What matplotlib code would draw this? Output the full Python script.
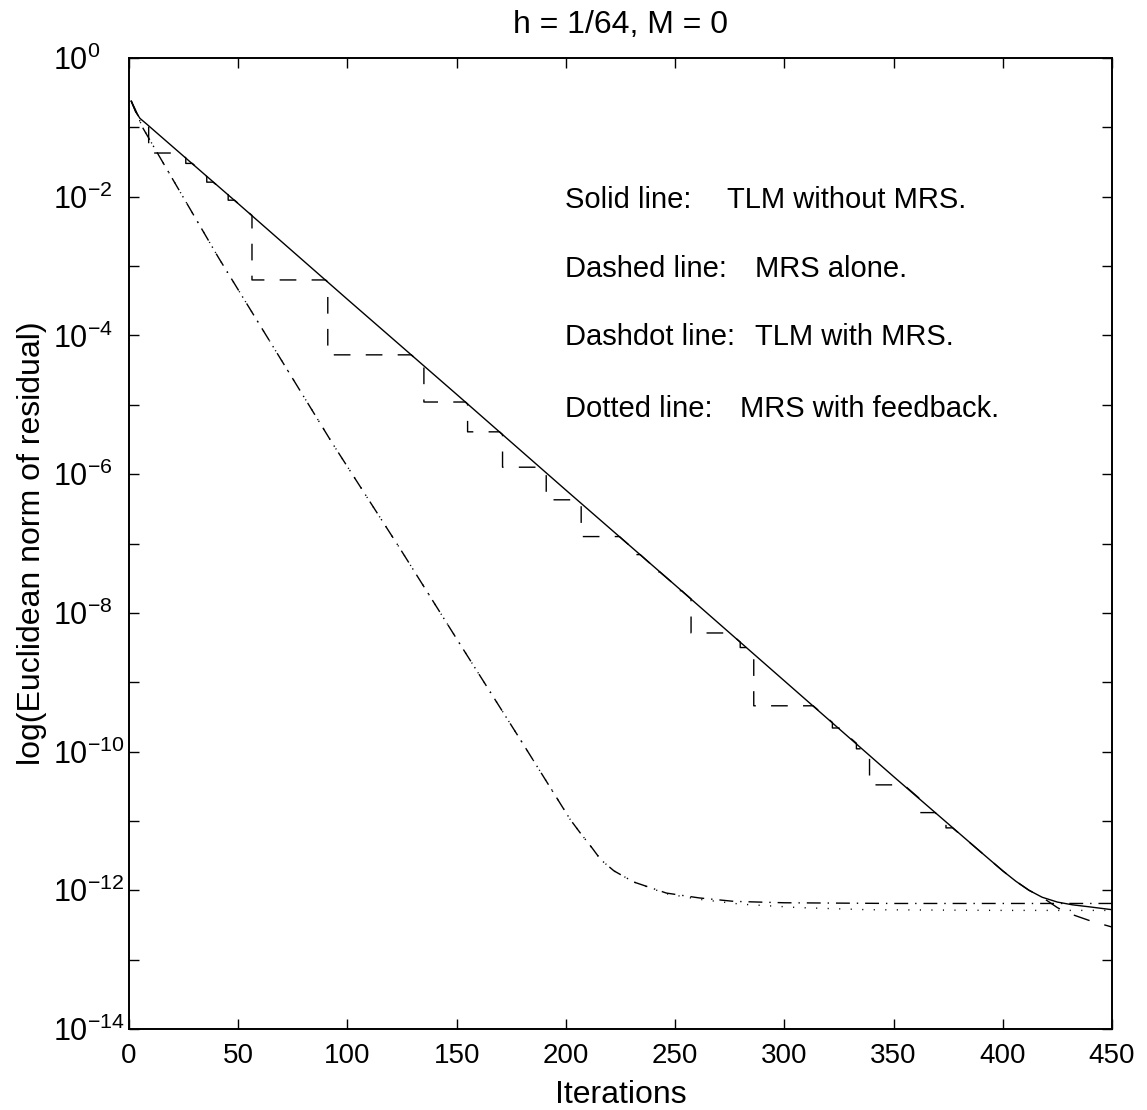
import numpy as np
import matplotlib
matplotlib.use("Agg")
import matplotlib.pyplot as plt
from matplotlib.ticker import FixedLocator, FixedFormatter, NullLocator

plt.rcParams['font.family'] = ['Liberation Sans', 'DejaVu Sans']
plt.rcParams['mathtext.fontset'] = 'custom'
plt.rcParams['mathtext.rm'] = 'Liberation Sans'
plt.rcParams['mathtext.it'] = 'Liberation Sans'
plt.rcParams['mathtext.bf'] = 'Liberation Sans'

# ---- data (log10 of Euclidean norm of residual) ----
solid_iter = [1, 3, 5, 8, 12, 50, 100, 150, 200, 250, 300, 350, 390, 400, 406, 412,
              418, 425, 432, 440, 450]
solid_log = [-0.62, -0.77, -0.87, -0.95, -1.06, -2.10, -3.48, -4.85, -6.23, -7.60, -8.98,
             -10.36, -11.45, -11.72, -11.87, -12.00, -12.10, -12.17, -12.21, -12.24, -12.28]

dashed_iter = [1, 3, 5, 8, 9, 9, 23, 26, 26, 29, 35.6, 35.6, 38.5, 45.4, 45.4, 48.3,
               56.3, 56.3, 90, 91, 91, 129.2, 135, 135, 154, 155, 155, 169.6, 171, 171,
               188.2, 191, 191, 205.2, 207, 207, 224.5, 231, 231, 234, 240, 240, 243,
               250, 250, 253, 257.3, 257.3, 275, 279.8, 279.8, 282.7, 286, 286, 313.2,
               322, 322, 325, 333, 333, 336, 339, 339, 354.7, 362, 362, 369, 374, 374,
               377, 390, 400, 406, 412, 418, 425, 430, 440, 450]
dashed_log = [-0.62, -0.77, -0.87, -0.95, -0.97, -1.37, -1.37, -1.44, -1.52, -1.52,
              -1.71, -1.79, -1.79, -1.97, -2.05, -2.05, -2.27, -3.20, -3.20, -3.23,
              -4.28, -4.28, -4.44, -4.96, -4.96, -4.99, -5.39, -5.39, -5.43, -5.90,
              -5.90, -5.98, -6.37, -6.37, -6.42, -6.90, -6.90, -7.08, -7.16, -7.16,
              -7.33, -7.41, -7.41, -7.60, -7.68, -7.68, -7.80, -8.29, -8.29, -8.42,
              -8.50, -8.50, -8.59, -9.34, -9.34, -9.58, -9.66, -9.66, -9.88, -9.96,
              -9.96, -10.05, -10.48, -10.48, -10.68, -10.88, -10.88, -11.02, -11.10,
              -11.10, -11.45, -11.72, -11.87, -12.00, -12.10, -12.25, -12.33, -12.44,
              -12.53]

dashdot_iter = [1, 3, 6, 13, 41, 93, 124, 151.5, 180, 202, 206.5, 212, 216, 222, 231,
                246, 261, 277, 300, 350, 400, 450]
dashdot_log = [-0.62, -0.75, -0.99, -1.37, -2.88, -5.55, -7.07, -8.45, -9.87, -10.98,
               -11.17, -11.39, -11.56, -11.72, -11.88, -12.04, -12.11, -12.16, -12.18,
               -12.19, -12.19, -12.19]

dotted_iter = [1, 3, 6, 13, 41, 93, 124, 151.5, 180, 202, 206.5, 212, 216, 222, 231,
               246, 261, 280, 307, 338, 400, 450]
dotted_log = [-0.62, -0.75, -0.99, -1.37, -2.88, -5.55, -7.07, -8.45, -9.87, -10.98,
              -11.17, -11.39, -11.56, -11.72, -11.88, -12.05, -12.13, -12.20, -12.25,
              -12.28, -12.29, -12.29]

x_ticks = [0, 50, 100, 150, 200, 250, 300, 350, 400, 450]
y_exponents = [0, -1, -2, -3, -4, -5, -6, -7, -8, -9, -10, -11, -12, -13, -14]

legend_left = ["Solid line:", "Dashed line:", "Dashdot line:", "Dotted line:"]
legend_right = ["TLM without MRS.", "MRS alone.", "TLM with MRS.", "MRS with feedback."]

# ---- figure ----
fig = plt.figure(figsize=(11.47, 11.10), dpi=100)
ax = fig.add_axes([129/1147, 1 - 1029/1110, (1112 - 129)/1147, (1029 - 58)/1110])

lw = 1.0
ax.plot(solid_iter, np.power(10.0, solid_log), color='black', lw=lw, linestyle='-')
ax.plot(dashed_iter, np.power(10.0, dashed_log), color='black', lw=lw, dashes=(12, 11))
ax.plot(dashdot_iter, np.power(10.0, dashdot_log), color='black', lw=lw, dashes=(10, 5, 1, 5))
ax.plot(dotted_iter, np.power(10.0, dotted_log), color='black', lw=lw, dashes=(0.8, 7.5))

ax.set_yscale('log')
ax.set_xlim(0, 450)
ax.set_ylim(1e-14, 1e0)

ax.xaxis.set_major_locator(FixedLocator(x_ticks))
ax.set_xticklabels([str(v) for v in x_ticks])
yvals = [10.0 ** e for e in y_exponents]
ax.yaxis.set_major_locator(FixedLocator(yvals))
ax.yaxis.set_major_formatter(FixedFormatter(
    [r'$10^{%d}$' % e if e % 2 == 0 else '' for e in y_exponents]))
ax.yaxis.set_minor_locator(NullLocator())
ax.xaxis.set_minor_locator(NullLocator())

ax.tick_params(axis='both', which='major', direction='in', length=7, width=1.0,
               top=True, right=True, colors='black')
ax.tick_params(axis='x', pad=10, labelsize=20)
ax.tick_params(axis='y', pad=55, labelsize=22)
for lab in ax.get_yticklabels():
    lab.set_horizontalalignment('left')
for sp in ax.spines.values():
    sp.set_linewidth(1.4)

ax.set_xlabel('Iterations', fontsize=23, labelpad=8)
ax.set_ylabel('log(Euclidean norm of residual)', fontsize=23, labelpad=0)
ax.yaxis.set_label_coords(-0.083, 0.5)
ax.set_title('h = 1/64, M = 0', fontsize=23, pad=18)

ys = [0.8455, 0.7745, 0.7044, 0.630]
xr = [0.608, 0.637, 0.637, 0.6216]
for i in range(4):
    ax.text(0.4435, ys[i], legend_left[i], transform=ax.transAxes, fontsize=21,
            ha='left', va='baseline')
    ax.text(xr[i], ys[i], legend_right[i], transform=ax.transAxes, fontsize=21,
            ha='left', va='baseline')

fig.savefig('out.png', dpi=100)
